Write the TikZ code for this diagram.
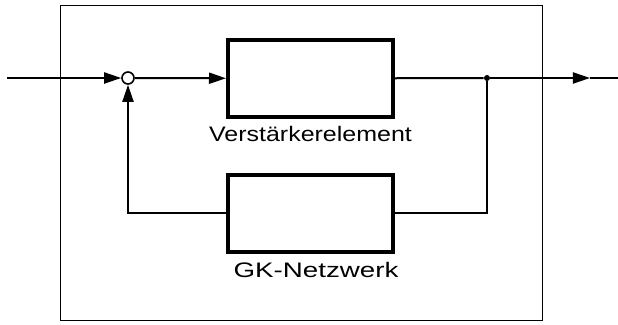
\documentclass[tikz,border=0pt]{standalone}
\usepackage{fontspec}
\setmainfont{Liberation Sans}
\usetikzlibrary{arrows.meta}
\begin{document}
\begin{tikzpicture}[x=0.5pt,y=-0.5pt]

  % Definitions
  \tikzstyle{block} = [rectangle, minimum width=82.5pt, minimum height=38.5pt, line width=2pt, draw=black]
  \tikzstyle{sum} = [circle, minimum size=6pt, inner sep=0pt, line width=0.8pt, draw=black]
  \tikzstyle{dot} = [circle, minimum size=3pt, inner sep=0pt, fill=black]
  \tikzstyle{caption} = [font=\fontsize{10.5}{12}\selectfont, inner sep=0pt]
  \tikzstyle{frame} = [line width=0.5pt, draw=black]
  \tikzstyle{line} = [line width=1pt]
  \tikzstyle{arrow} = [line width=1pt,-{Triangle[length=8.5pt,width=5.5pt]}]

  \useasboundingbox (0,0) rectangle (618,325);

  % outer frame
  \draw [frame] (61,6) rectangle (543,321);

  \coordinate (in) at (7,78);
  \node (sum) [sum] at (128,78) {};
  \node (amp) [block] at (310.5,78.5) {};
  \node (amplabel) [caption, xscale=1.19] at (310.5,134) {Verstärkerelement};
  \node (split) [dot] at (487,78) {};
  \coordinate (outtip) at (590,78);
  \coordinate (out) at (618,78);
  \node (gk) [block] at (310.5,213.5) {};
  \node (gklabel) [caption, xscale=1.32] at (316,270) {GK-Netzwerk};

  \draw [arrow] (in) -- (sum);
  \draw [arrow] (sum) -- (amp);
  \draw [line] (amp) -- (split);
  \draw [arrow] (split) -- (outtip);
  \draw [line] (outtip) -- (out);
  \draw [line] (split) |- (gk);
  \draw [arrow] (gk) -| (sum);

\end{tikzpicture}
\end{document}
